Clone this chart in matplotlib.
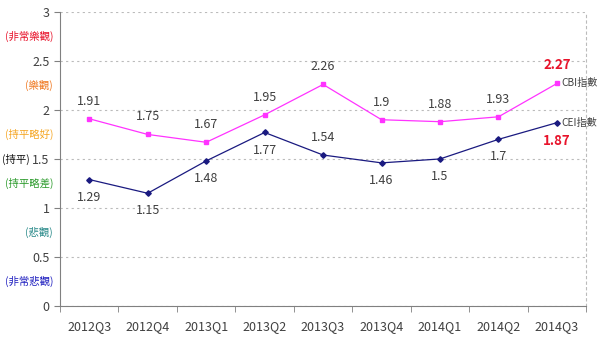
import numpy as np
import matplotlib.pyplot as plt
import matplotlib
matplotlib.rcParams['font.family'] = ['Noto Sans CJK TC', 'DejaVu Sans']

quarters = ['2012Q3', '2012Q4', '2013Q1', '2013Q2', '2013Q3', '2013Q4', '2014Q1', '2014Q2', '2014Q3']
cbi = [1.91, 1.75, 1.67, 1.95, 2.26, 1.9, 1.88, 1.93, 2.27]
cei = [1.29, 1.15, 1.48, 1.77, 1.54, 1.46, 1.5, 1.7, 1.87]
cei_label_above = [False, False, False, False, True, False, False, False, False]
zone_labels = ['(非常樂觀)', '(樂觀)', '(持平略好)', '(持平)', '(持平略差)', '(悲觀)', '(非常悲觀)']
zone_values = [2.75, 2.25, 1.75, 1.5, 1.25, 0.75, 0.25]
zone_colors = ['#e8132b', '#f07820', '#f5a623', '#111111', '#2a9a2a', '#2a8a8a', '#2020c0']

fig = plt.figure(figsize=(6, 3.4), dpi=100)
ax = fig.add_axes([0.1, 0.1, 0.877, 0.865])

x = np.arange(len(quarters))
ax.plot(x, cbi, color='#ff33ff', lw=0.9, marker='s', ms=3.5, zorder=3)
ax.plot(x, cei, color='#1a1a80', lw=0.9, marker='D', ms=2.8, zorder=3)

txt = '#404040'
for i, v in enumerate(cbi):
    last = i == len(cbi) - 1
    ax.annotate(str(v), (i, v), xytext=(0, 8), textcoords='offset points', ha='center', va='bottom',
                fontsize=9.5 if last else 9, color='#e8132b' if last else txt,
                fontweight='bold' if last else 'normal')
for i, v in enumerate(cei):
    last = i == len(cei) - 1
    dy = 8 if cei_label_above[i] else -8
    ax.annotate(str(v), (i, v), xytext=(0, dy), textcoords='offset points', ha='center',
                va='bottom' if dy > 0 else 'top',
                fontsize=9.5 if last else 9, color='#e8132b' if last else txt,
                fontweight='bold' if last else 'normal')

ax.annotate('CBI指數', (x[-1], cbi[-1]), xytext=(3.5, 0), textcoords='offset points', ha='left', va='center',
            fontsize=7.3, color=txt)
ax.annotate('CEI指數', (x[-1], cei[-1]), xytext=(3.5, 0), textcoords='offset points', ha='left', va='center',
            fontsize=7.3, color=txt)

ax.set_xlim(-0.5, len(quarters) - 0.5)
ax.set_ylim(0, 3)
ax.set_yticks(np.arange(0, 3.01, 0.5))
ax.set_yticklabels(['0', '0.5', '1', '1.5', '2', '2.5', '3'])
ax.set_xticks(x)
ax.set_xticklabels(quarters)
ax.set_xticks(np.arange(-0.5, len(quarters)), minor=True)
ax.tick_params(axis='x', which='major', length=0, pad=10, labelsize=9, labelcolor=txt)
ax.tick_params(axis='x', which='minor', length=4, color='#808080', direction='out')
ax.tick_params(axis='y', length=4, color='#808080', labelsize=9, labelcolor=txt)

ax.grid(axis='y', ls=(0, (2, 3)), color='#bbbbbb', lw=0.8)
ax.spines['top'].set_visible(False)
ax.spines['right'].set_linestyle((0, (2, 3)))
ax.spines['right'].set_color('#bbbbbb')
ax.spines['left'].set_color('#808080')
ax.spines['bottom'].set_color('#808080')

for lab, val, col in zip(zone_labels, zone_values, zone_colors):
    xoff = -21.5 if lab == '(持平)' else -5
    ax.annotate(lab, (-0.5, val), xytext=(xoff, 0), textcoords='offset points', ha='right', va='center',
                fontsize=7.5, color=col, annotation_clip=False)

fig.savefig('out.png', dpi=100)
